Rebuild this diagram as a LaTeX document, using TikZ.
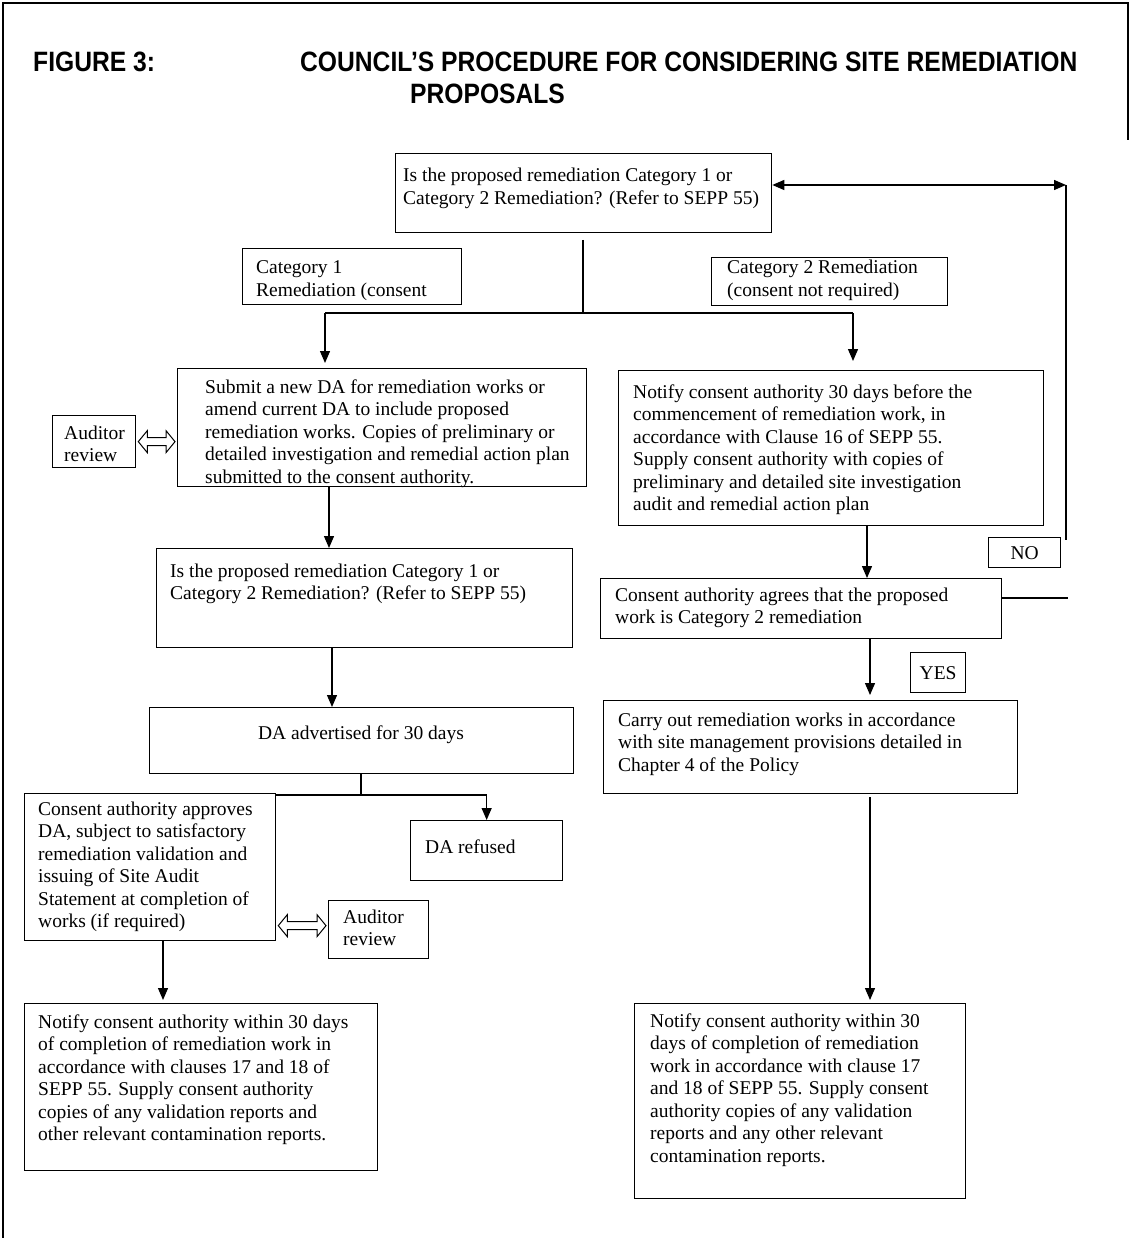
\documentclass[tikz,border=0pt]{standalone}
\usepackage{fontspec}
\setmainfont{Liberation Serif}
\newfontfamily\titlefont[FakeStretch=0.88]{Liberation Sans}
\usetikzlibrary{arrows.meta,calc}
\newcommand\mlines[1]{\begin{tabular}[t]{@{}l@{}}#1\end{tabular}}
\begin{document}
\begin{tikzpicture}[x=1pt,y=-1pt,
  box/.style={draw, rectangle, line width=1.3pt, inner sep=0pt, anchor=north west},
  txt/.style={anchor=base west, inner sep=0pt, font=\fontsize{19.5}{22.5}\selectfont},
  ctxt/.style={inner sep=0pt, font=\fontsize{19.5}{22.5}\selectfont},
  ttl/.style={anchor=base west, inner sep=0pt, font=\titlefont\bfseries\fontsize{28}{32}\selectfont},
  ln/.style={line width=1.3pt},
  arr/.style={line width=1.3pt, -{Triangle[length=12pt,width=10pt]}},
  darr/.style={line width=1.3pt, {Triangle[length=12pt,width=10pt]}-{Triangle[length=12pt,width=10pt]}},
  hol/.style={line width=1pt, fill=white}]
\useasboundingbox (0,0) rectangle (1131,1238);
% frame
\draw[line width=2pt] (3,1238) -- (3,3) -- (1128,3) -- (1128,140);
% title
\node[ttl] (t1) at (33,72) {FIGURE 3:};
\node[ttl] (t2) at (300,72) {COUNCIL’S PROCEDURE FOR CONSIDERING SITE REMEDIATION};
\node[ttl] (t3) at (410,104) {PROPOSALS};
% boxes
\node[box, minimum width=376pt, minimum height=79pt] (q1) at (395,153) {};
\node[txt] (q1t) at (403,182) {\mlines{Is the proposed remediation Category 1 or\\Category 2 Remediation? (Refer to SEPP 55)}};
\node[box, minimum width=219pt, minimum height=56pt] (cat1) at (242,248) {};
\node[txt] (cat1t) at (256,274) {\mlines{Category 1\\Remediation (consent}};
\node[box, minimum width=236pt, minimum height=48pt] (cat2) at (711,257) {};
\node[txt] (cat2t) at (727,274) {\mlines{Category 2 Remediation\\(consent not required)}};
\node[box, minimum width=409pt, minimum height=118pt] (da1) at (177,368) {};
\node[txt] (da1t) at (205,393) {\mlines{Submit a new DA for remediation works or\\amend current DA to include proposed\\remediation works. Copies of preliminary or\\detailed investigation and remedial action plan\\submitted to the consent authority.}};
\node[box, minimum width=83pt, minimum height=52pt] (aud1) at (52,415) {};
\node[txt] (aud1t) at (64,439) {\mlines{Auditor\\review}};
\node[box, minimum width=425pt, minimum height=155pt] (nt2) at (618,370) {};
\node[txt] (nt2t) at (633,398) {\mlines{Notify consent authority 30 days before the\\commencement of remediation work, in\\accordance with Clause 16 of SEPP 55.\\Supply consent authority with copies of\\preliminary and detailed site investigation\\audit and remedial action plan}};
\node[box, minimum width=72pt, minimum height=30pt] (no) at (988,537) {};
\node[ctxt] (not) at (no.center) {NO};
\node[box, minimum width=401pt, minimum height=60pt] (agr) at (600,578) {};
\node[txt] (agrt) at (615,601) {\mlines{Consent authority agrees that the proposed\\work is Category 2 remediation}};
\node[box, minimum width=416pt, minimum height=99pt] (q2) at (156,548) {};
\node[txt] (q2t) at (170,577) {\mlines{Is the proposed remediation Category 1 or\\Category 2 Remediation? (Refer to SEPP 55)}};
\node[box, minimum width=55pt, minimum height=40pt] (yes) at (910,652) {};
\node[ctxt] (yest) at (yes.center) {YES};
\node[box, minimum width=414pt, minimum height=93pt] (carry) at (603,700) {};
\node[txt] (carryt) at (618,726) {\mlines{Carry out remediation works in accordance\\with site management provisions detailed in\\Chapter 4 of the Policy}};
\node[box, minimum width=424pt, minimum height=66pt] (adv) at (149,707) {};
\node[ctxt, anchor=base] (advt) at (361,739) {DA advertised for 30 days};
\node[box, minimum width=251pt, minimum height=147pt] (appr) at (24,793) {};
\node[txt] (apprt) at (38,815) {\mlines{Consent authority approves\\DA, subject to satisfactory\\remediation validation and\\issuing of Site Audit\\Statement at completion of\\works (if required)}};
\node[box, minimum width=152pt, minimum height=60pt] (ref) at (410,820) {};
\node[txt] (reft) at (425,853) {DA refused};
\node[box, minimum width=100pt, minimum height=58pt] (aud2) at (328,900) {};
\node[txt] (aud2t) at (343,923) {\mlines{Auditor\\review}};
\node[box, minimum width=353pt, minimum height=167pt] (nt1) at (24,1003) {};
\node[txt] (nt1t) at (38,1028) {\mlines{Notify consent authority within 30 days\\of completion of remediation work in\\accordance with clauses 17 and 18 of\\SEPP 55. Supply consent authority\\copies of any validation reports and\\other relevant contamination reports.}};
\node[box, minimum width=331pt, minimum height=195pt] (nt3) at (634,1003) {};
\node[txt] (nt3t) at (650,1027) {\mlines{Notify consent authority within 30\\days of completion of remediation\\work in accordance with clause 17\\and 18 of SEPP 55. Supply consent\\authority copies of any validation\\reports and any other relevant\\contamination reports.}};
% coordinates
\coordinate (s1) at (583,240);
\coordinate (s2) at (583,313);
\coordinate (bl) at (325,313);
\coordinate (br) at (853,313);
\coordinate (fbt) at (1066,185);
\coordinate (fbb) at (1066,540);
\coordinate (fbr) at (1068,598);
\coordinate (advs) at (361,795);
% connectors
\draw[ln] (s1) -- (s2);
\draw[ln] (bl) -- (br);
\draw[arr, shorten >=5pt] (bl) -- (bl |- da1.north);
\draw[arr, shorten >=9pt] (br) -- (br |- nt2.north);
\draw[arr] (329,0 |- da1.south) -- (329,0 |- q2.north);
\draw[arr] (332,0 |- q2.south) -- (332,0 |- adv.north);
\draw[ln] (adv.south -| advs) -- (advs);
\draw[ln] (advs -| appr.east) -- (advs -| ref.north);
\draw[arr] (advs -| ref.north) -- (ref.north);
\draw[arr, shorten >=3pt] (163,0 |- appr.south) -- (163,0 |- nt1.north);
\draw[arr] (867,0 |- nt2.south) -- (867,0 |- agr.north);
\draw[arr, shorten >=5pt] (870,0 |- agr.south) -- (870,0 |- carry.north);
\draw[arr, shorten >=3pt] ($(870,0 |- carry.south)+(0,3)$) -- (870,0 |- nt3.north);
\draw[ln] (fbr -| agr.east) -- (fbr);
\draw[ln] (fbt) -- (fbb);
\draw[darr] (fbt -| q1.east) -- (fbt);
% hollow double arrows
\path let \p1=($(aud1.east)+(2,0)$), \p2=($(aud1.east -| da1.west)+(-2,0)$) in
  [draw, hol] (\x1,\y1) -- (\x1+9pt,\y1+11pt) -- (\x1+9pt,\y1+4pt) -- (\x2-9pt,\y1+4pt) -- (\x2-9pt,\y1+11pt)
  -- (\x2,\y1) -- (\x2-9pt,\y1-11pt) -- (\x2-9pt,\y1-4pt) -- (\x1+9pt,\y1-4pt) -- (\x1+9pt,\y1-11pt) -- cycle;
\path let \p1=($(appr.east |- aud2.west)+(2,-4)$), \p2=($(aud2.west)+(-2,-4)$) in
  [draw, hol] (\x1,\y1) -- (\x1+9pt,\y1+11pt) -- (\x1+9pt,\y1+4pt) -- (\x2-9pt,\y1+4pt) -- (\x2-9pt,\y1+11pt)
  -- (\x2,\y1) -- (\x2-9pt,\y1-11pt) -- (\x2-9pt,\y1-4pt) -- (\x1+9pt,\y1-4pt) -- (\x1+9pt,\y1-11pt) -- cycle;
\end{tikzpicture}
\end{document}
